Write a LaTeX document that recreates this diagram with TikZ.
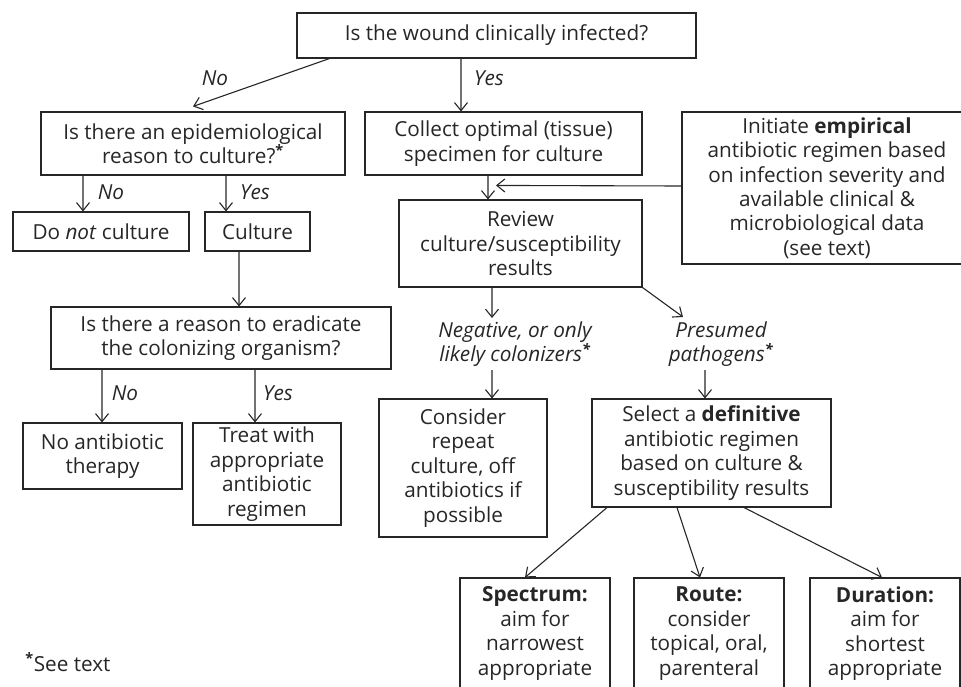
\documentclass[tikz,border=0pt]{standalone}
\usepackage{fontspec}
\setmainfont{Open Sans}
\usetikzlibrary{arrows.meta}
\newcommand\mainfs{\fontsize{20.8}{24.5}\selectfont}
\definecolor{ink}{HTML}{262626}
\tikzset{
  box/.style={draw=ink, line width=1.1bp, inner sep=0pt, align=center, font=\mainfs, text=ink},
  lab/.style={inner sep=4bp, align=center, font=\mainfs\itshape, text=ink},
  arr/.style={draw=ink, -{Straight Barb[length=8bp,width=13bp]}, line width=1.1bp},
}
\begin{document}
\begin{tikzpicture}[x=1bp,y=-1bp]
\useasboundingbox (0,0) rectangle (961,687);
\clip (0,0) rectangle (961,687);
% boxes
\node[box, minimum width=399bp, minimum height=45bp] (top) at (496.5,35.5) {Is the wound clinically infected?};
\node[box, minimum width=304bp, minimum height=63bp] (epi) at (193,143.5) {Is there an epidemiological\\reason to culture?\textsuperscript{\textbf{*}}};
\node[box, minimum width=277bp, minimum height=63bp] (collect) at (503.5,143.5) {Collect optimal (tissue)\\specimen for culture};
\node[box, minimum width=290bp, minimum height=152bp] (emp) at (827,188) {Initiate \textbf{empirical}\\antibiotic regimen based\\on infection severity and\\available clinical \&\\microbiological data\\(see text)};
\node[box, minimum width=176bp, minimum height=39bp] (dont) at (101,231.5) {Do \textit{not} culture};
\node[box, minimum width=105bp, minimum height=39bp] (cult) at (257.5,231.5) {Culture};
\node[box, minimum width=340bp, minimum height=62bp] (erad) at (221,338) {Is there a reason to eradicate\\the colonizing organism?};
\node[box, minimum width=243bp, minimum height=87bp] (review) at (520.5,243.5) {Review\\culture/susceptibility\\results};
\node[box, minimum width=159bp, minimum height=66bp] (noab) at (102.5,456) {No antibiotic\\therapy};
\node[box, minimum width=148bp, minimum height=102bp] (treat) at (267,474) {Treat with\\appropriate\\antibiotic\\regimen};
\node[lab] (neg) at (515,344) {Negative, or only\\likely colonizers\textsuperscript{\textbf{*}}};
\node[lab] (pres) at (721,344) {Presumed\\pathogens\textsuperscript{\textbf{*}}};
\node[box, minimum width=168bp, minimum height=138bp] (consider) at (463,468) {Consider\\repeat\\culture, off\\antibiotics if\\possible};
\node[box, minimum width=239bp, minimum height=108bp] (select) at (711.5,453) {Select a \textbf{definitive}\\antibiotic regimen\\based on culture \&\\susceptibility results};
\node[box, minimum width=150bp, minimum height=111bp] (spec) at (535,633.5) {\textbf{Spectrum:}\\aim for\\narrowest\\appropriate};
\node[box, minimum width=150bp, minimum height=111bp] (route) at (709,633.5) {\textbf{Route:}\\consider\\topical, oral,\\parenteral};
\node[box, minimum width=150bp, minimum height=111bp] (dur) at (885,633.5) {\textbf{Duration:}\\aim for\\shortest\\appropriate};
% labels
\node[lab] (l1) at (215,78) {No};
\node[lab] (l2) at (489,78) {Yes};
\node[lab] (l3) at (111,192) {No};
\node[lab] (l4) at (255,192) {Yes};
\node[lab] (l5) at (125,393) {No};
\node[lab] (l6) at (278,393) {Yes};
\node[inner sep=0pt, font=\mainfs, text=ink] (note) at (68,662) {\textsuperscript{\textbf{*}}See text};
% connectors
\draw[arr] ([xshift=33bp]top.south west) -- ([yshift=5bp]epi.north);
\draw[arr] ([xshift=-35.5bp]top.south) -- ([xshift=-42.5bp]collect.north);
\draw[arr] ([xshift=-110bp]epi.south) -- ([xshift=-18bp]dont.north);
\draw[arr] ([xshift=33bp]epi.south) -- ([xshift=-31.5bp]cult.north);
\draw[arr] ([xshift=-18.5bp]cult.south) -- ([xshift=18bp]erad.north);
\draw[arr] ([xshift=-119bp]erad.south) -- ([xshift=-0.5bp]noab.north);
\draw[arr] ([xshift=34bp]erad.south) -- ([xshift=-12bp]treat.north);
\draw[arr] ([xshift=-15.5bp]collect.south) -- ([xshift=-32.5bp]review.north);
\draw[arr] ([yshift=2bp]emp.west) -- ([xshift=-24.5bp,yshift=14bp]review.north);
\draw[arr] ([xshift=-28.5bp]review.south) -- ([xshift=-23bp,yshift=26bp]neg.center);
\draw[arr] (review.south east) -- ([xshift=-38bp,yshift=27bp]pres.center);
\draw[arr] ([xshift=-23bp,yshift=-26bp]neg.center) -- ([xshift=29bp]consider.north);
\draw[arr] ([xshift=-16bp,yshift=-26bp]pres.center) -- ([xshift=-6.5bp]select.north);
\draw[arr] ([xshift=-104.5bp]select.south) -- ([xshift=-10bp]spec.north);
\draw[arr] ([xshift=-34.5bp]select.south) -- ([xshift=-9bp]route.north);
\draw[arr] ([xshift=32.5bp]select.south) -- ([xshift=-3bp]dur.north);
\end{tikzpicture}
\end{document}
